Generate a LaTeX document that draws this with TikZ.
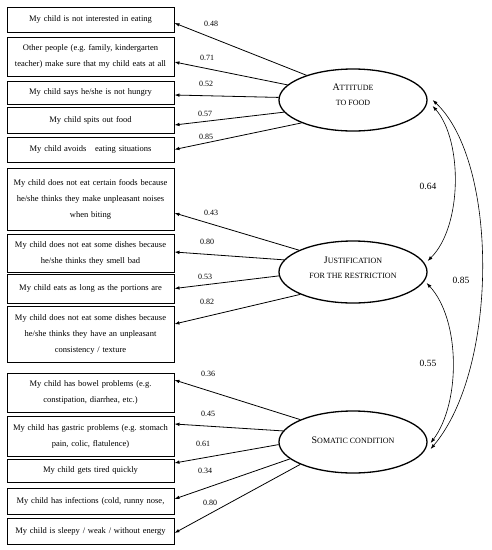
\documentclass[tikz,border=0pt]{standalone}
\usepackage{fontspec}
\setmainfont{Liberation Serif}
\frenchspacing
\usetikzlibrary{arrows.meta,shapes.geometric}
\newcommand{\fbigcap}[2]{{\fontsize{10}{15}\selectfont #1}{\fontsize{8}{15}\selectfont #2}}
\newcommand{\fsmallcap}[1]{{\fontsize{8}{15}\selectfont #1}}
\begin{document}
\begin{tikzpicture}[x=1pt,y=-1pt,
  itembox/.style={draw=black,line width=0.9pt,minimum width=167pt,text width=163pt,align=center,inner sep=0pt,
    font=\fontsize{8.5}{16}\selectfont},
  factor/.style={draw=black,line width=1.3pt,ellipse,minimum width=148pt,minimum height=62pt,inner sep=0pt},
  ftext/.style={align=center,inner sep=0pt,font=\fontsize{8}{15}\selectfont},
  load/.style={line width=0.8pt,-{Latex[length=5pt,width=3.6pt]}},
  cov/.style={line width=0.6pt,{Latex[length=5pt,width=3.6pt]}-{Latex[length=5pt,width=3.6pt]}},
  lab/.style={font=\fontsize{8}{10}\selectfont,inner sep=0pt},
  covlab/.style={font=\fontsize{9.5}{11}\selectfont,inner sep=0pt}]
\useasboundingbox (0,0) rectangle (492,550);
% boxes
\node[itembox,minimum height=25pt] (b1) at (90.5,19.5) {My child is not interested in eating};
\node[itembox,minimum height=39pt] (b2) at (90.5,56.5) {Other people (e.g. family, kindergarten\\teacher) make sure that my child eats at all};
\node[itembox,minimum height=23pt] (b3) at (90.5,92.5) {My child says he/she is not hungry};
\node[itembox,minimum height=26pt] (b4) at (90.5,120) {My child spits out food};
\node[itembox,minimum height=25pt] (b5) at (90.5,149.5) {My child avoids\hspace{6pt} eating situations};
\node[itembox,minimum height=62pt] (b6) at (90.5,199) {My child does not eat certain foods because\\he/she thinks they make unpleasant noises\\when biting};
\node[itembox,minimum height=38pt] (b7) at (90.5,253) {My child does not eat some dishes because\\he/she thinks they smell bad};
\node[itembox,minimum height=29pt] (b8) at (90.5,288.5) {My child eats as long as the portions are};
\node[itembox,minimum height=56pt] (b9) at (90.5,334) {My child does not eat some dishes because\\he/she thinks they have an unpleasant\\consistency / texture};
\node[itembox,minimum height=39pt] (b10) at (90.5,392.5) {My child has bowel problems (e.g.\\constipation, diarrhea, etc.)};
\node[itembox,minimum height=40pt] (b11) at (90.5,436) {My child has gastric problems (e.g. stomach\\pain, colic, flatulence)};
\node[itembox,minimum height=23pt] (b12) at (90.5,470.5) {My child gets tired quickly};
\node[itembox,minimum height=26pt] (b13) at (90.5,501) {My child has infections (cold, runny nose,};
\node[itembox,minimum height=26pt] (b14) at (90.5,531) {My child is sleepy / weak / without energy};
% factors
\node[factor] (att) at (353,100) {};
\node[factor] (jus) at (353,272) {};
\node[factor] (som) at (353,442) {};
\node[ftext] (attT) at (353,95) {\fbigcap{A}{TTITUDE}\\\fsmallcap{TO FOOD}};
\node[ftext] (jusT) at (353,268) {\fbigcap{J}{USTIFICATION}\\\fsmallcap{FOR THE RESTRICTION}};
\node[ftext] (somT) at (353,440) {\fbigcap{S}{OMATIC CONDITION}};
% loadings
\draw[load] (att.152) -- ([yshift=-3.5pt]b1.east);
\draw[load] (att.167) -- ([yshift=-5.5pt]b2.east);
\draw[load] (att.178.5) -- ([yshift=-2.5pt]b3.east);
\draw[load] (att.190) -- ([yshift=-5pt]b4.east);
\draw[load] (att.204) -- (b5.east);
\draw[load] (jus.158) -- ([yshift=-14pt]b6.east);
\draw[load] (jus.170) -- ([yshift=1pt]b7.east);
\draw[load] (jus.183) -- (b8.east);
\draw[load] (jus.203) -- ([yshift=10pt]b9.east);
\draw[load] (som.157) -- ([yshift=12.5pt]b10.east);
\draw[load] (som.171) -- ([yshift=12pt]b11.east);
\draw[load] (som.182) -- ([yshift=7.5pt]b12.east);
\draw[load] (som.195) -- ([yshift=2pt]b13.east);
\draw[load] (som.203) -- ([yshift=-2pt]b14.east);
\node[lab] (l1) at (211,24) {0.48};
\node[lab] (l2) at (207,58) {0.71};
\node[lab] (l3) at (206,84) {0.52};
\node[lab] (l4) at (205,114) {0.57};
\node[lab] (l5) at (206,137) {0.85};
\node[lab] (l6) at (211,213) {0.43};
\node[lab] (l7) at (207,242) {0.80};
\node[lab] (l8) at (205,277) {0.53};
\node[lab] (l9) at (207,302) {0.82};
\node[lab] (l10) at (208,374) {0.36};
\node[lab] (l11) at (208,414) {0.45};
\node[lab] (l12) at (203,444) {0.61};
\node[lab] (l13) at (205,471) {0.34};
\node[lab] (l14) at (210,503) {0.80};
% covariances
\draw[cov] ([xshift=5pt]att.east) .. controls +(66,62) and +(68,-80) .. ([shift={(3pt,-7pt)}]som.east);
\draw[cov] ([shift={(5pt,-6pt)}]att.east) .. controls +(30,34) and +(35,-35) .. ([yshift=11pt]jus.east);
\draw[cov] ([shift={(-1pt,-11pt)}]jus.east) .. controls +(34,37) and +(30,-40) .. ([shift={(3pt,-1pt)}]som.east);
\node[covlab] (c1) at (428,186) {0.64};
\node[covlab] (c2) at (461,280) {0.85};
\node[covlab] (c3) at (428,363) {0.55};
\end{tikzpicture}
\end{document}
